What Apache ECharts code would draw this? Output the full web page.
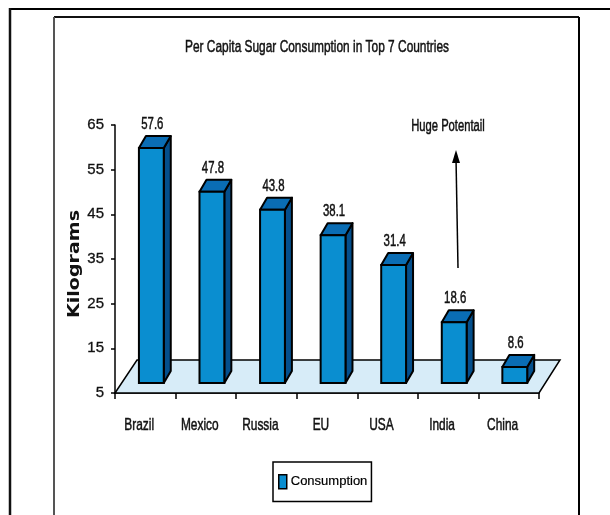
<!DOCTYPE html>
<html>
<head>
<meta charset="utf-8">
<script src="https://cdn.jsdelivr.net/npm/echarts@6/dist/echarts.min.js"></script>
<style>
  html, body { margin: 0; padding: 0; background: #fff; }
  #chart { width: 610px; height: 515px; }
</style>
</head>
<body>
<div id="chart"></div>
<script>
// data
const countries = ['Brazil', 'Mexico', 'Russia', 'EU', 'USA', 'India', 'China'];
const consumption = [57.6, 47.8, 43.8, 38.1, 31.4, 18.6, 8.6];
const yMin = 5, yMax = 65, yStep = 10;

// no condensed font installed, so texts are squeezed with scaleX
const SANS = "'Liberation Sans', Arial, sans-serif";
const SQUEEZE = 0.7;
const INK = '#111';
const FRONT = '#0a8ed0', TOPC = '#0a6db4', SIDE = '#044f8c';

// light blue floor under the bars
function renderFloor(params, api) {
  const band = api.size([1, 0])[0];
  const a = api.coord([0, yMin]);
  const b = api.coord([countries.length - 1, yMin]);
  const L = a[0] - band / 2, R = b[0] + band / 2, y = a[1];
  return {
    type: 'polygon',
    shape: { points: [[L, y], [L + 22, y - 33], [R + 21, y - 33], [R, y]] },
    style: { fill: '#d7ecf8', stroke: '#000', lineWidth: 1.5 }
  };
}

// category names under the floor
function renderCategory(params, api) {
  const idx = api.value(0);
  const p = api.coord([idx, yMin]);
  const band = api.size([1, 0])[0];
  return {
    type: 'text',
    x: p[0] - band * 0.1, y: p[1] + 32,
    scaleX: SQUEEZE,
    style: { text: countries[idx], x: 0, y: 0, align: 'center', verticalAlign: 'middle',
      fontFamily: SANS, fontSize: 17, fill: INK, stroke: INK, lineWidth: 0.5 }
  };
}

// pseudo 3D column
function renderBar(params, api) {
  const idx = api.value(0), v = api.value(1);
  const base = api.coord([idx, yMin]);
  const top = api.coord([idx, v]);
  const band = api.size([1, 0])[0];
  const w = band * 0.41;
  const lift = 10, dx = 7, dy = -12;
  const x0 = base[0] - w / 2 + band * 0.1, x1 = x0 + w;
  const yb = base[1] - lift, yt = top[1] - lift;
  return {
    type: 'group',
    children: [
      { type: 'polygon', shape: { points: [[x1, yb], [x1, yt], [x1 + dx, yt + dy], [x1 + dx, yb + dy]] },
        style: { fill: SIDE, stroke: '#000', lineWidth: 2, lineJoin: 'round' } },
      { type: 'polygon', shape: { points: [[x0, yt], [x1, yt], [x1 + dx, yt + dy], [x0 + dx, yt + dy]] },
        style: { fill: TOPC, stroke: '#000', lineWidth: 2, lineJoin: 'round' } },
      { type: 'rect', shape: { x: x0, y: yt, width: w, height: yb - yt },
        style: { fill: FRONT, stroke: '#000', lineWidth: 2 } },
      { type: 'text', x: (x0 + x1) / 2 + 1, y: yt + dy - 3, scaleX: 0.67,
        style: { text: v.toFixed(1), x: 0, y: 0, align: 'center', verticalAlign: 'bottom',
          fontFamily: SANS, fontSize: 17, fill: INK, stroke: INK, lineWidth: 0.5 } }
    ]
  };
}

const chart = echarts.init(document.getElementById('chart'));
chart.setOption({
  animation: false,
  backgroundColor: '#fff',
  grid: { left: 115, right: 71, top: 125, bottom: 122 },
  xAxis: {
    type: 'category',
    data: countries,
    boundaryGap: true,
    axisLine: { lineStyle: { color: '#000', width: 1.5 } },
    axisTick: { show: true, interval: 0, alignWithLabel: false, length: 6, lineStyle: { color: '#000', width: 1.5 } },
    axisLabel: { show: false }
  },
  yAxis: {
    type: 'value',
    min: yMin, max: yMax, interval: yStep,
    axisLine: { show: true, lineStyle: { color: '#000', width: 1.5 } },
    axisTick: { show: true, length: 4, lineStyle: { color: '#000', width: 1.5 } },
    axisLabel: { margin: 11, fontFamily: SANS, fontSize: 15, color: INK,
      textBorderColor: INK, textBorderWidth: 0.3 },
    splitLine: { show: false }
  },
  legend: {
    data: [{ name: 'Consumption', icon: 'rect' }],
    left: 273, top: 462,
    itemWidth: 8, itemHeight: 14, itemGap: 4,
    padding: [12, 4, 12, 5],
    borderColor: '#000', borderWidth: 1.5,
    itemStyle: { borderColor: '#000', borderWidth: 1.5 },
    textStyle: { fontFamily: SANS, fontSize: 13, color: '#000', padding: [0, 0, 0, -1],
      textBorderColor: '#000', textBorderWidth: 0.2 }
  },
  series: [
    {
      name: 'floor', type: 'custom', silent: true, z: 1,
      renderItem: renderFloor,
      data: [[0, yMin]]
    },
    {
      name: 'categories', type: 'custom', silent: true, z: 1,
      renderItem: renderCategory,
      data: countries.map((c, i) => [i, yMin])
    },
    {
      name: 'Consumption', type: 'custom', z: 3,
      renderItem: renderBar,
      itemStyle: { color: FRONT },
      encode: { x: 0, y: 1 },
      data: consumption.map((v, i) => [i, v])
    }
  ],
  graphic: [
    // outer frame
    { type: 'line', shape: { x1: 10, y1: 9, x2: 610, y2: 9 }, style: { stroke: '#000', lineWidth: 2 } },
    { type: 'line', shape: { x1: 10, y1: 8, x2: 10, y2: 515 }, style: { stroke: '#111', lineWidth: 2.5 } },
    // inner frame
    { type: 'line', shape: { x1: 54, y1: 17, x2: 579, y2: 17 }, style: { stroke: '#111', lineWidth: 2 } },
    { type: 'line', shape: { x1: 54, y1: 17, x2: 54, y2: 515 }, style: { stroke: '#555', lineWidth: 2 } },
    { type: 'line', shape: { x1: 579, y1: 17, x2: 579, y2: 515 }, style: { stroke: '#000', lineWidth: 2 } },
    // title
    { type: 'text', x: 317, y: 47, scaleX: 0.7,
      style: { text: 'Per Capita Sugar Consumption in Top 7 Countries', x: 0, y: 0,
        align: 'center', verticalAlign: 'middle', fontFamily: SANS, fontSize: 17,
        fill: INK, stroke: INK, lineWidth: 0.5 } },
    // y axis name, letter-spaced look
    { type: 'text', x: 75, y: 264, rotation: Math.PI / 2, scaleX: 1.27,
      style: { text: 'Kilograms', x: 0, y: 0, align: 'center', verticalAlign: 'middle',
        fontFamily: 'DejaVu Sans', fontWeight: 'bold', fontSize: 15, fill: INK } },
    // annotation
    { type: 'text', x: 448, y: 127, scaleX: 0.7,
      style: { text: 'Huge Potentail', x: 0, y: 0, align: 'center', verticalAlign: 'middle',
        fontFamily: SANS, fontSize: 16, fill: INK, stroke: INK, lineWidth: 0.5 } },
    { type: 'line', shape: { x1: 458, y1: 268, x2: 456, y2: 158 }, style: { stroke: '#000', lineWidth: 1.5 } },
    { type: 'polygon', shape: { points: [[456, 150], [452, 163], [460, 163]] }, style: { fill: '#000' } }
  ]
});
</script>
</body>
</html>
